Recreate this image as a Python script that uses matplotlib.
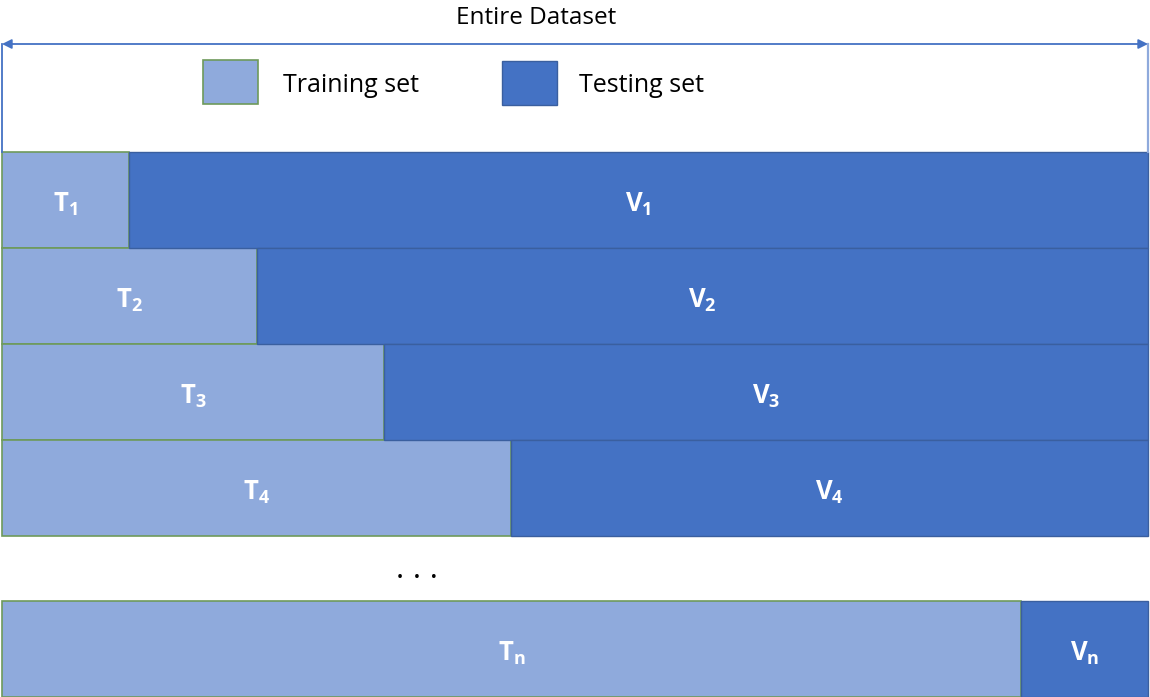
import numpy as np
import matplotlib.pyplot as plt
from matplotlib.patches import Rectangle

plt.rcParams['font.family'] = ['Open Sans', 'DejaVu Sans']
plt.rcParams['mathtext.fontset'] = 'custom'
plt.rcParams['mathtext.rm'] = 'Open Sans'
plt.rcParams['mathtext.bf'] = 'Open Sans:bold'

# data: training share of the dataset (in ninths) for each split
total = 9
train_units = [1, 2, 3, 4, 8]
train_labels = ['1', '2', '3', '4', 'n']
row_centers = [200, 296, 392, 488, 649]   # vertical layout (pixels from top)
row_height = 96

train_color = '#8faadc'
test_color = '#4472c4'
train_edge = '#6e9a5b'
test_edge = '#3a5f9f'

fig = plt.figure(figsize=(11.5, 6.97), dpi=100)
ax = fig.add_axes([0, 0, 1, 1])
px = total / 1146.0
ax.set_xlim(-2 * px, total + 2 * px)
ax.set_ylim(697, 0)
ax.axis('off')

train = np.array(train_units)
test = total - train
ax.barh(row_centers, train, height=row_height, left=0, color=train_color,
        edgecolor=train_edge, linewidth=1.2)
ax.barh(row_centers, test, height=row_height, left=train, color=test_color,
        edgecolor=test_edge, linewidth=1.0)

for y, t, v, lab in zip(row_centers, train, test, train_labels):
    ax.text(t / 2, y + 4, r'$\mathbf{T_{%s}}$' % lab, color='white',
            fontsize=18.5, ha='center', va='center')
    ax.text(t + v / 2, y + 4, r'$\mathbf{V_{%s}}$' % lab, color='white',
            fontsize=18.5, ha='center', va='center')

# dots between row 4 and row n
ax.text(415 * px, 573, '.  .  .', fontsize=15, fontweight='bold',
        ha='center', va='center')

# entire dataset arrow
ax.annotate('', xy=(0, 44), xytext=(total, 44),
            arrowprops=dict(arrowstyle='<|-|>', color=test_color, lw=1.3,
                            mutation_scale=14, shrinkA=0, shrinkB=0))
ax.plot([0, 0], [44, 152], color=test_color, lw=1.3)
ax.plot([total, total], [44, 152], color='#8faadc', lw=1.6)
ax.text(534 * px, 18, 'Entire Dataset', fontsize=17.5, ha='center', va='center')

# legend boxes
ax.add_patch(Rectangle((201 * px, 60), 55 * px, 44, facecolor=train_color,
                       edgecolor=train_edge, lw=1.2))
ax.text(281 * px, 86, 'Training set', fontsize=18, ha='left', va='center')
ax.add_patch(Rectangle((500 * px, 61), 55 * px, 44, facecolor=test_color,
                       edgecolor=test_edge, lw=1.0))
ax.text(577 * px, 86, 'Testing set', fontsize=18, ha='left', va='center')

fig.savefig('out.png', dpi=100)
